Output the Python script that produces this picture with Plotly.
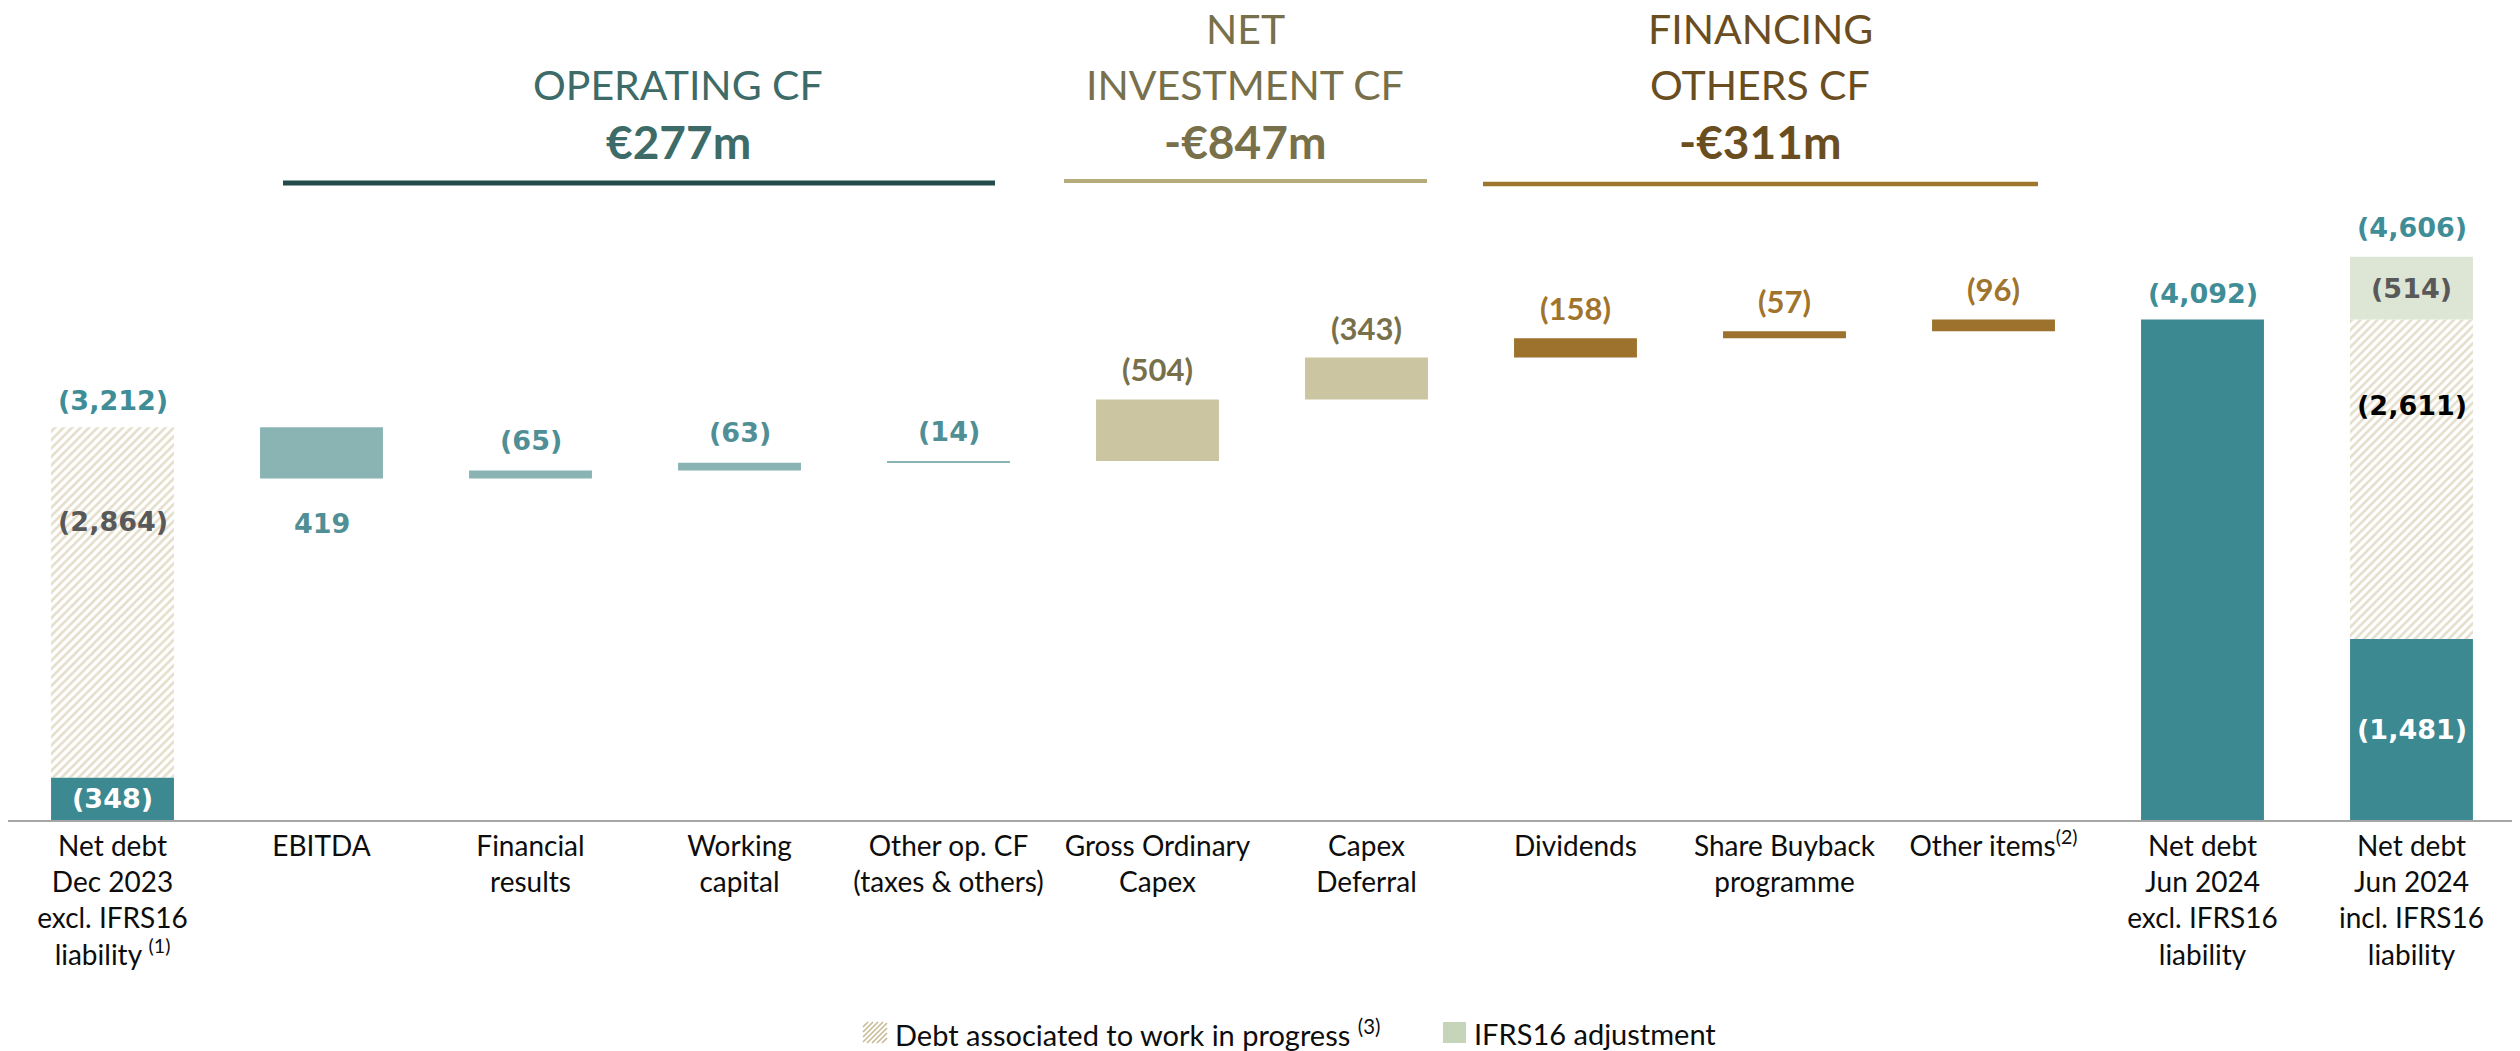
import plotly.graph_objects as go

# ---------------- data ----------------
categories = [
    "Net debt<br>Dec 2023<br>excl. IFRS16<br>liability <sup>(1)</sup>",
    "EBITDA",
    "Financial<br>results",
    "Working<br>capital",
    "Other op. CF<br>(taxes & others)",
    "Gross Ordinary<br>Capex",
    "Capex<br>Deferral",
    "Dividends",
    "Share Buyback<br>programme",
    "Other items<sup>(2)</sup>",
    "Net debt<br>Jun 2024<br>excl. IFRS16<br>liability",
    "Net debt<br>Jun 2024<br>incl. IFRS16<br>liability",
]
opening_core_debt = -348
opening_wip_debt = -2864
cash_flows = [419, -65, -63, -14, -504, -343, -158, -57, -96]
closing_debt_excl = -4092
closing_core_debt = -1481
closing_wip_debt = -2611
ifrs16_adjustment = -514

group_names = ["OPERATING CF", "NET<br>INVESTMENT CF", "FINANCING<br>OTHERS CF"]
group_members = [[0, 1, 2, 3], [4, 5], [6, 7, 8]]

# ---------------- styles ----------------
TEAL = "#3C8991"
TEAL_LIGHT = "#8AB4B4"
OLIVE_BAR = "#CCC5A1"
BROWN_BAR = "#9C722C"
IFRS_FILL = "#DDE5D5"
HATCH_FG = "#C7BB95"
flow_colors = [TEAL_LIGHT] * 4 + [OLIVE_BAR] * 2 + [BROWN_BAR] * 3
flow_label_colors = ["#4F8F95"] * 4 + ["#77704A"] * 2 + ["#A0742D"] * 3
group_text_colors = ["#3D6B68", "#77704A", "#6B4E1F"]
group_line_colors = ["#244B4B", "#B6AC7B", "#A0762E"]

WIDE = "DejaVu Sans"
CAL = "Lato"


def fmt(v):
    return f"({abs(v):,})" if v < 0 else f"{v:,}"


def fmt_m(v):
    return f"€{v:,}m" if v >= 0 else f"-€{abs(v):,}m"


# page places the figure 8px from the top-left corner of the window
OFF = 8
W, H = 2520 - OFF, 1051 - OFF
PLOT_LEFT, PLOT_RIGHT, PLOT_TOP, PLOT_BOTTOM = 8, 2516, 8, 820  # in window px
ML = PLOT_LEFT - OFF
MR = 2520 - PLOT_RIGHT
MT = PLOT_TOP - OFF
MB = 1051 - PLOT_BOTTOM
PLOT_W = PLOT_RIGHT - PLOT_LEFT
PLOT_H = PLOT_BOTTOM - PLOT_TOP
YMAX = 6640


def px_x(p):
    return (p - PLOT_LEFT) / PLOT_W


def px_y(p):
    return (PLOT_BOTTOM - p) / PLOT_H


x_open = categories[0]
flow_x = categories[1:10]
x_excl = categories[10]
x_incl = categories[11]

opening_total = opening_core_debt + opening_wip_debt
closing_total_incl = closing_core_debt + closing_wip_debt + ifrs16_adjustment

# waterfall geometry (heights as positive debt)
flow_base, flow_height = [], []
level = -opening_total
for cf in cash_flows:
    new_level = level - cf
    flow_base.append(min(level, new_level))
    flow_height.append(abs(cf))
    level = new_level

BW = 0.588
fig = go.Figure()
fig.add_trace(go.Bar(
    x=[x_open, x_excl, x_incl],
    y=[-opening_core_debt, -closing_debt_excl, -closing_core_debt],
    base=[0, 0, 0], width=BW, marker=dict(color=TEAL, line=dict(width=0)),
    showlegend=False, hoverinfo="skip"))
fig.add_trace(go.Bar(
    x=[x_open, x_incl],
    y=[-opening_wip_debt, -closing_wip_debt],
    base=[-opening_core_debt, -closing_core_debt], width=BW,
    marker=dict(color=HATCH_FG, line=dict(width=0),
                pattern=dict(shape="/", fgcolor=HATCH_FG, bgcolor="white",
                             size=6, solidity=0.42)),
    showlegend=False, hoverinfo="skip"))
fig.add_trace(go.Bar(
    x=[x_incl], y=[-ifrs16_adjustment], base=[-closing_debt_excl], width=BW,
    marker=dict(color=IFRS_FILL, line=dict(width=0)),
    showlegend=False, hoverinfo="skip"))
fig.add_trace(go.Bar(
    x=flow_x, y=flow_height, base=flow_base, width=BW,
    marker=dict(color=flow_colors, line=dict(width=0)),
    showlegend=False, hoverinfo="skip"))

ann = []


def lab(x, y, text, color, family=WIDE, size=27, yshift=0, bold=True):
    ann.append(dict(x=x, y=y, xref="x", yref="y", text=f"<b>{text}</b>" if bold else text,
                    showarrow=False, yshift=yshift, yanchor="middle", xanchor="center",
                    font=dict(family=family, size=size, color=color)))


# totals / stacked labels
lab(x_open, -opening_total, fmt(opening_total), "#3F8D96", yshift=27)
lab(x_open, -opening_core_debt + 0.73 * -opening_wip_debt, fmt(opening_wip_debt), "#595959")
lab(x_open, -opening_core_debt / 2, fmt(opening_core_debt), "white")
lab(x_excl, -closing_debt_excl, fmt(closing_debt_excl), "#3F8D96", yshift=26)
lab(x_incl, -closing_total_incl, fmt(closing_total_incl), "#3F8D96", yshift=29)
lab(x_incl, -closing_debt_excl - ifrs16_adjustment / 2, fmt(ifrs16_adjustment), "#595959")
lab(x_incl, -closing_core_debt + 0.73 * -closing_wip_debt, fmt(closing_wip_debt), "#000000")
lab(x_incl, -closing_core_debt / 2, fmt(closing_core_debt), "white")

# flow labels
for i, (x, cf, b, h) in enumerate(zip(flow_x, cash_flows, flow_base, flow_height)):
    fam, sz = (WIDE, 27) if i < 4 else (CAL, 31)
    if cf > 0:
        lab(x, b, fmt(cf), flow_label_colors[i], fam, sz, yshift=-45)
    else:
        lab(x, b + h, fmt(cf), flow_label_colors[i], fam, sz, yshift=30)

# group headers
group_center_px = [678, 1245, 1760]
group_line_px = [(283, 995, 183, 5), (1064, 1427, 181, 4), (1483, 2038, 184, 4.5)]
shapes = []
for g, (name, members) in enumerate(zip(group_names, group_members)):
    total = sum(cash_flows[i] for i in members)
    lines = name.split("<br>")
    ys = [84] if len(lines) == 1 else [29, 84]
    for ln, yy in zip(lines, ys):
        ann.append(dict(x=px_x(group_center_px[g]), y=px_y(yy), xref="paper", yref="paper",
                        text=ln, showarrow=False, xanchor="center", yanchor="middle",
                        font=dict(family=CAL, size=41, color=group_text_colors[g])))
    ann.append(dict(x=px_x(group_center_px[g]), y=px_y(141), xref="paper", yref="paper",
                    text=f"<b>{fmt_m(total)}</b>", showarrow=False, xanchor="center",
                    yanchor="middle", font=dict(family=CAL, size=46, color=group_text_colors[g])))
    x0, x1, yy, lw = group_line_px[g]
    shapes.append(dict(type="line", xref="paper", yref="paper", x0=px_x(x0), x1=px_x(x1),
                       y0=px_y(yy), y1=px_y(yy), line=dict(color=group_line_colors[g], width=lw)))

# manual legend
hx0, hx1, hy0, hy1 = 863, 887, 1022, 1043
segs = []
wI, hI = hx1 - hx0, hy1 - hy0
u = -hI
while u < wI:
    sx = max(u, 0); sy = sx - u
    ex = min(u + hI, wI); ey = ex - u
    segs.append(f"M{px_x(hx0 + sx)},{px_y(hy1 - sy)} L{px_x(hx0 + ex)},{px_y(hy1 - ey)}")
    u += 5
shapes.append(dict(type="path", xref="paper", yref="paper", path=" ".join(segs),
                   line=dict(color=HATCH_FG, width=1.6)))
ann.append(dict(x=px_x(893), y=px_y(1033), xref="paper", yref="paper", showarrow=False,
                text="Debt associated to work in progress <sup>(3)</sup>", xanchor="left",
                yanchor="middle", font=dict(family=CAL, size=29, color="#0D0D0D")))
shapes.append(dict(type="rect", xref="paper", yref="paper", x0=px_x(1443), x1=px_x(1466),
                   y0=px_y(1043), y1=px_y(1022), fillcolor="#C6D5B9", line=dict(width=0)))
ann.append(dict(x=px_x(1472), y=px_y(1033), xref="paper", yref="paper", showarrow=False,
                text="IFRS16 adjustment", xanchor="left", yanchor="middle",
                font=dict(family=CAL, size=29, color="#0D0D0D")))

fig.update_layout(
    width=W, height=H, margin=dict(l=ML, r=MR, t=MT, b=MB, pad=0),
    paper_bgcolor="white", plot_bgcolor="white", barmode="overlay",
    showlegend=False, annotations=ann, shapes=shapes,
    xaxis=dict(type="category", categoryorder="array", categoryarray=categories,
               range=[-0.5, 11.5], showline=True, linecolor="#A6A6A6", linewidth=2,
               ticks="", showgrid=False, zeroline=False,
               tickfont=dict(family=CAL, size=28, color="#0D0D0D")),
    yaxis=dict(visible=False, range=[0, YMAX], fixedrange=True),
)
fig.write_html("out.html")
